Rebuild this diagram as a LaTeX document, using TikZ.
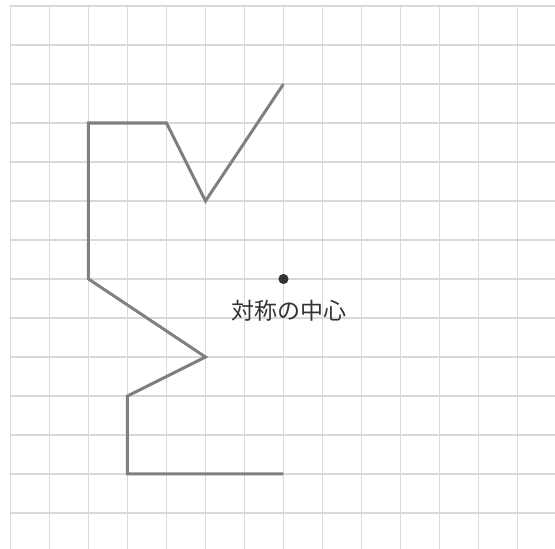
\documentclass[tikz,border=0pt]{standalone}
\usepackage{fontspec}
\newfontfamily\jpfont{Noto Sans CJK JP}
\definecolor{gridgray}{HTML}{D9D9D9}
\definecolor{linegray}{HTML}{808080}
\definecolor{textgray}{HTML}{333333}
\tikzset{
  gridline/.style={gridgray, line width=1.1pt},
  figline/.style={linegray, line width=2.2pt, line join=miter},
}
\begin{document}
\begin{tikzpicture}
  \useasboundingbox (-0.269,0.077) rectangle (13.962,14.154);
  \clip (-0.269,0.077) rectangle (13.962,14.154);
  \draw[gridline, step=1] (0,-0.5) grid (14.5,14);
  \coordinate (P1) at (7,12);
  \coordinate (P2) at (5,9);
  \coordinate (P3) at (4,11);
  \coordinate (P4) at (2,11);
  \coordinate (P5) at (2,7);
  \coordinate (P6) at (5,5);
  \coordinate (P7) at (3,4);
  \coordinate (P8) at (3,2);
  \coordinate (P9) at (7,2);
  \coordinate (O) at (7,7);
  \draw[figline] (P1) -- (P2) -- (P3) -- (P4) -- (P5) -- (P6) -- (P7) -- (P8) -- (P9);
  \fill[textgray] (O) circle (0.13);
  \node[textgray, font=\jpfont\fontsize{16.8}{17}\selectfont, anchor=center] (label) at (7.15,6.18) {対称の中心};
\end{tikzpicture}
\end{document}
